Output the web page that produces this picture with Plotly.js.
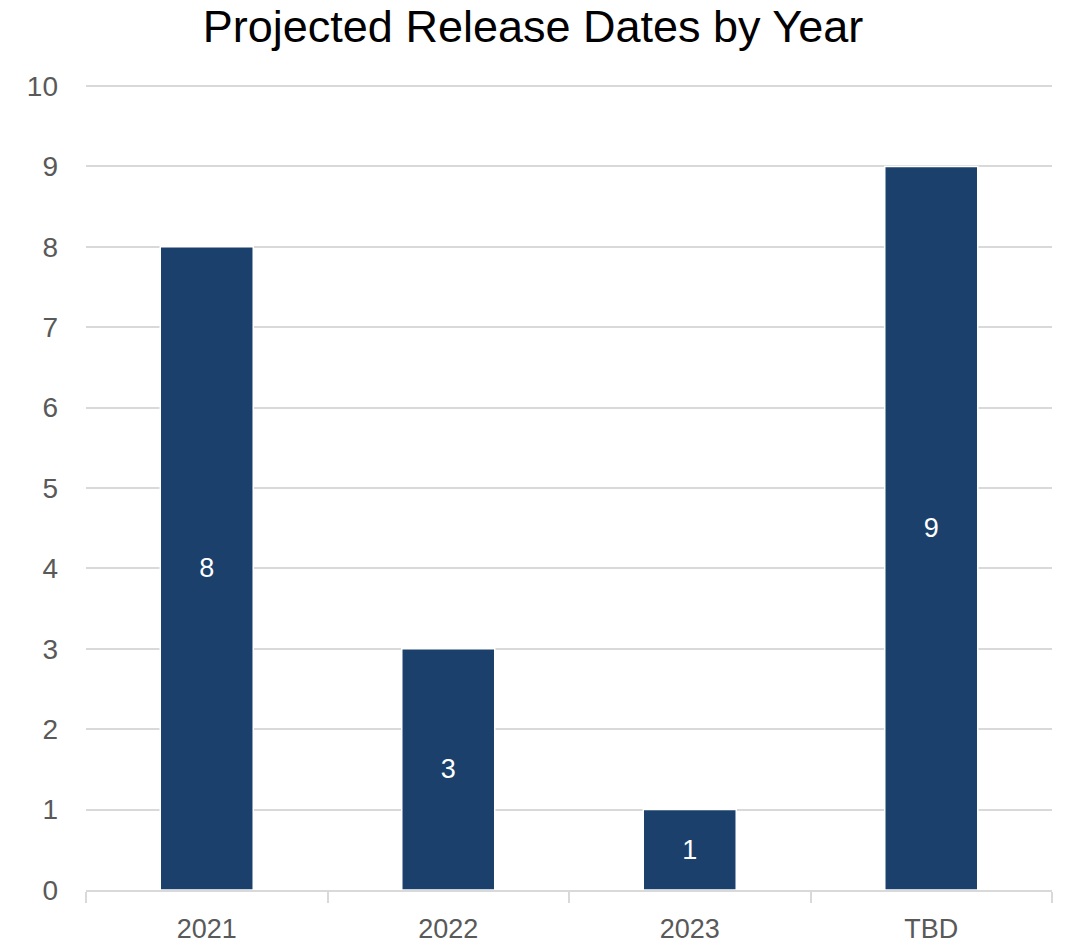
<!DOCTYPE html>
<html>
<head>
<meta charset="utf-8">
<script src="https://cdn.plot.ly/plotly-3.0.1.min.js"></script>
<style>html,body{margin:0;padding:0;background:#fff;}#chart{width:1066px;height:943px;}</style>
</head>
<body>
<div id="chart"></div>
<script>
var categories = ["2021", "2022", "2023", "TBD"];
var counts = [8, 3, 1, 9];
var yTickVals = [0,1,2,3,4,5,6,7,8,9,10];

var trace = {
  type: "bar",
  x: categories,
  y: counts,
  text: counts.map(String),
  textposition: "inside",
  insidetextanchor: "middle",
  textangle: 0,
  textfont: {family: "Liberation Sans, Arial, sans-serif", size: 27, color: "#ffffff"},
  marker: {color: "#1a406b", line: {color: "#ffffff", width: 1.5}},
  hoverinfo: "x+y"
};

var layout = {
  width: 1066, height: 943,
  margin: {l: 86, r: 14, t: 82, b: 53},
  paper_bgcolor: "#ffffff", plot_bgcolor: "#ffffff",
  bargap: 0.615,
  showlegend: false,
  title: {
    text: "Projected Release Dates by Year",
    font: {family: "Liberation Sans, Arial, sans-serif", size: 45, color: "#000000"},
    x: 0.5, xanchor: "center", y: 0.972, yanchor: "middle"
  },
  xaxis: {
    type: "category",
    showgrid: false,
    showline: true, linecolor: "#d9d9d9", linewidth: 2,
    ticks: "outside", tickson: "boundaries", ticklen: 11, tickcolor: "#d9d9d9", tickwidth: 2,
    tickfont: {family: "Liberation Sans, Arial, sans-serif", size: 27, color: "#595959"},
    ticklabelstandoff: 14,
    fixedrange: true
  },
  yaxis: {
    range: [0, 10.05],
    tickvals: yTickVals,
    ticktext: yTickVals.map(String),
    showgrid: true, gridcolor: "#d9d9d9", gridwidth: 2,
    zeroline: false, showline: false,
    ticks: "",
    tickfont: {family: "Liberation Sans, Arial, sans-serif", size: 28, color: "#595959"},
    ticklabelstandoff: 27,
    fixedrange: true
  }
};

Plotly.newPlot("chart", [trace], layout, {displayModeBar: false, staticPlot: true});
</script>
</body>
</html>
